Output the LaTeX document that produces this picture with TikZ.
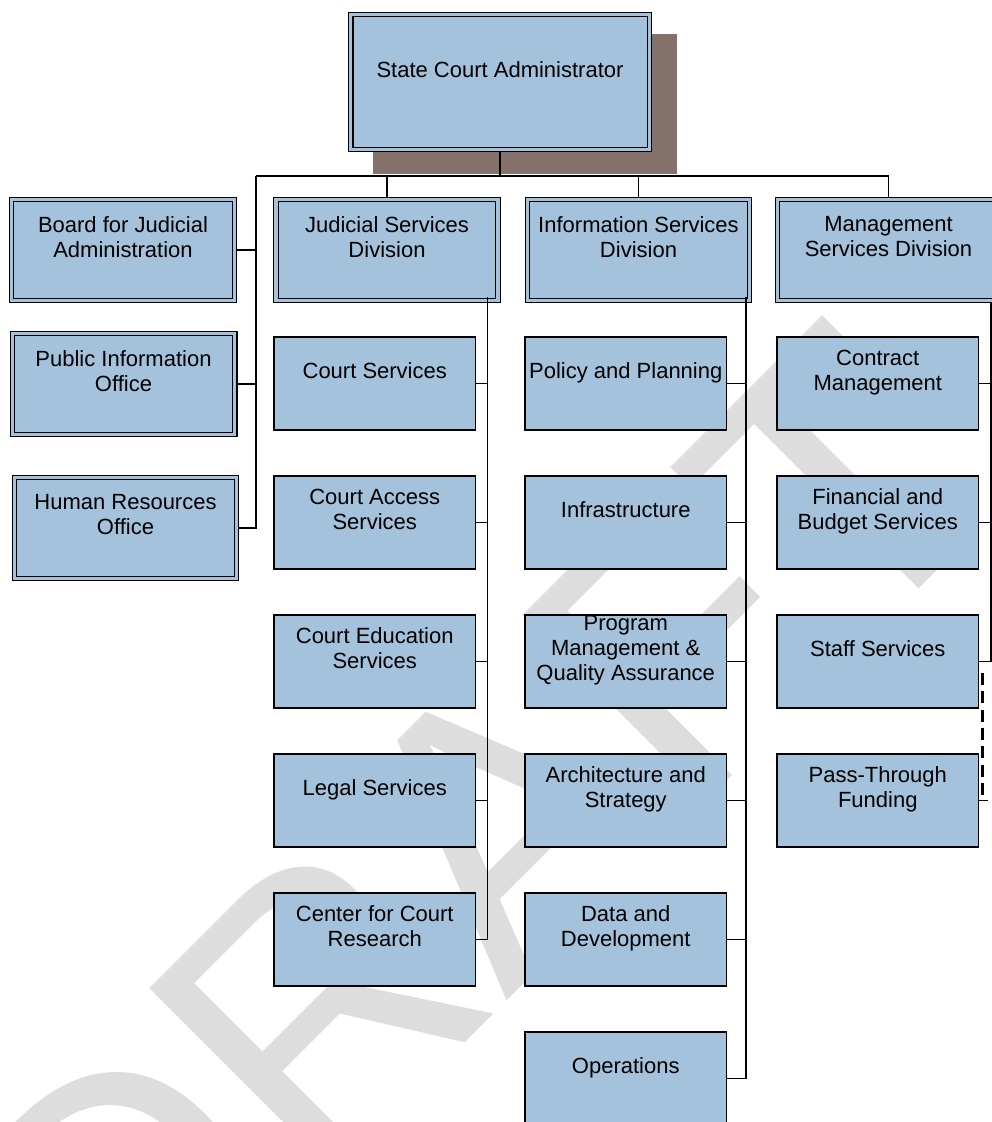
\documentclass[tikz,border=0pt]{standalone}
\usepackage{fontspec}
\setmainfont{Liberation Sans}
\newfontfamily\wmfont[Kerning=Off]{Liberation Sans}
\definecolor{boxblue}{RGB}{164,194,219}
\definecolor{shadowbrown}{RGB}{132,113,105}
\definecolor{wmgray}{RGB}{221,221,221}
% line strut matching the box text leading
\newcommand\ls{\rule[-4.7pt]{0pt}{24.6pt}}
\tikzset{
  unit/.style={draw=black, line width=1.2pt, fill=boxblue, minimum width=201.5pt,
    minimum height=93pt, inner sep=0pt, outer sep=0pt, anchor=north west},
  dbox/.style={draw=black, line width=1.1pt, double=boxblue, double distance=3.3pt,
    fill=boxblue, inner sep=0pt, outer sep=2.75pt},
  lbl/.style={font=\fontsize{22}{25}\selectfont, align=center, inner sep=0pt,
    execute at begin node=\ls, execute at end node=\ls},
  link/.style={draw=black, line width=1.3pt},
  dashlink/.style={draw=black, line width=3pt, dash pattern=on 12pt off 6.3pt},
}
\begin{document}
\begin{tikzpicture}[x=1pt,y=-1pt]
\useasboundingbox (0,0) rectangle (992,1122);
\clip (0,0) rectangle (992,1122);

% watermark
\node[wmgray, rotate=45, anchor=base west, inner sep=0pt,
  font=\wmfont\fontsize{380}{380}\selectfont] (draft) at (118,1390) {DRAFT};

% head of the organisation
\node[fill=shadowbrown, minimum width=304pt, minimum height=140pt, inner sep=0pt] (shadow) at (525,104) {};
\node[dbox, minimum width=298.5pt, minimum height=135pt] (sca) at (500,82) {};
\node[lbl] (sca-t) at ([yshift=-58pt]sca.north) {State Court Administrator};

% staff offices
\node[dbox, minimum width=223pt, minimum height=101pt] (bja) at (123,250) {};
\node[lbl] (bja-t) at ([yshift=-42.5pt]bja.north) {Board for Judicial\\Administration};
\node[dbox, minimum width=222.5pt, minimum height=101pt] (pio) at (123.5,384) {};
\node[lbl] (pio-t) at ([yshift=-42.5pt]pio.north) {Public Information\\Office};
\node[dbox, minimum width=222pt, minimum height=101pt] (hro) at (125.5,528) {};
\node[lbl] (hro-t) at ([yshift=-42.5pt]hro.north) {Human Resources\\Office};

% divisions
\node[dbox, minimum width=222pt, minimum height=101pt] (jsd) at (387,250) {};
\node[lbl] (jsd-t) at ([yshift=-42.5pt]jsd.north) {Judicial Services\\Division};
\node[dbox, minimum width=222pt, minimum height=101pt] (isd) at (638.5,250) {};
\node[lbl] (isd-t) at ([yshift=-42.5pt]isd.north) {Information Services\\Division};
\node[dbox, minimum width=222pt, minimum height=101pt] (msd) at (888.5,250) {};
\node[lbl] (msd-t) at ([yshift=-42.5pt]msd.north) {Management\\Services Division};

% Judicial Services units
\node[unit] (cs) at (274,337) {};
\node[lbl] (cs-t) at ([yshift=-34pt]cs.north) {Court Services};
\node[unit] (cas) at (274,476) {};
\node[lbl] (cas-t) at ([yshift=-35.5pt]cas.north) {Court Access\\Services};
\node[unit] (ces) at (274,615) {};
\node[lbl] (ces-t) at ([yshift=-35.5pt]ces.north) {Court Education\\Services};
\node[unit] (ls) at (274,754) {};
\node[lbl] (ls-t) at ([yshift=-34pt]ls.north) {Legal Services};
\node[unit] (ccr) at (274,893) {};
\node[lbl] (ccr-t) at ([yshift=-35.5pt]ccr.north) {Center for Court\\Research};

% Information Services units
\node[unit] (pp) at (525,337) {};
\node[lbl] (pp-t) at ([yshift=-34pt]pp.north) {Policy and Planning};
\node[unit] (inf) at (525,476) {};
\node[lbl] (inf-t) at ([yshift=-34pt]inf.north) {Infrastructure};
\node[unit] (pmq) at (525,615) {};
\node[lbl] (pmq-t) at ([yshift=-35.5pt]pmq.north) {Program\\Management \&\\Quality Assurance};
\node[unit] (as) at (525,754) {};
\node[lbl] (as-t) at ([yshift=-35.5pt]as.north) {Architecture and\\Strategy};
\node[unit] (dd) at (525,893) {};
\node[lbl] (dd-t) at ([yshift=-35.5pt]dd.north) {Data and\\Development};
\node[unit] (ops) at (525,1032) {};
\node[lbl] (ops-t) at ([yshift=-34pt]ops.north) {Operations};

% Management Services units
\node[unit] (cm) at (777,337) {};
\node[lbl] (cm-t) at ([yshift=-35.5pt]cm.north) {Contract\\Management};
\node[unit] (fbs) at (777,476) {};
\node[lbl] (fbs-t) at ([yshift=-35.5pt]fbs.north) {Financial and\\Budget Services};
\node[unit] (ss) at (777,615) {};
\node[lbl] (ss-t) at ([yshift=-34pt]ss.north) {Staff Services};
\node[unit] (ptf) at (777,754) {};
\node[lbl] (ptf-t) at ([yshift=-35.5pt]ptf.north) {Pass-Through\\Funding};

% reporting lines
\coordinate (bus) at (500,176);
\coordinate (busL) at (256,176);
\coordinate (busR) at (889,176);
\draw[link, line width=2pt] (sca.south) -- (bus);
\draw[link] (busL) -- (busR);
\draw[link] (busL) |- (bja.east);
\draw[link] (busL) |- (pio.east);
\draw[link] (busL) |- (hro.east);
\draw[link] (jsd.north |- busL) -- (jsd.north);
\draw[link] (isd.north |- busL) -- (isd.north);
\draw[link] (msd.north |- busL) -- (msd.north);

\coordinate (jv) at (487.5,297);
\foreach \u in {cs,cas,ces,ls,ccr} \draw[link] (jv) |- (\u.east);
\coordinate (iv) at (746,297);
\foreach \u in {pp,inf,pmq,as,dd,ops} \draw[link] (iv) |- (\u.east);
\coordinate (mv) at (991,303);
\foreach \u in {cm,fbs,ss} \draw[link] (mv) |- (\u.east);

\coordinate (d1) at (982,673);
\coordinate (d2) at (982,797);
\draw[dashlink] (d1) -- (d2);
\coordinate (pe) at (988,800.5);
\draw[link] (ptf.east) -- (pe);
\end{tikzpicture}
\end{document}
